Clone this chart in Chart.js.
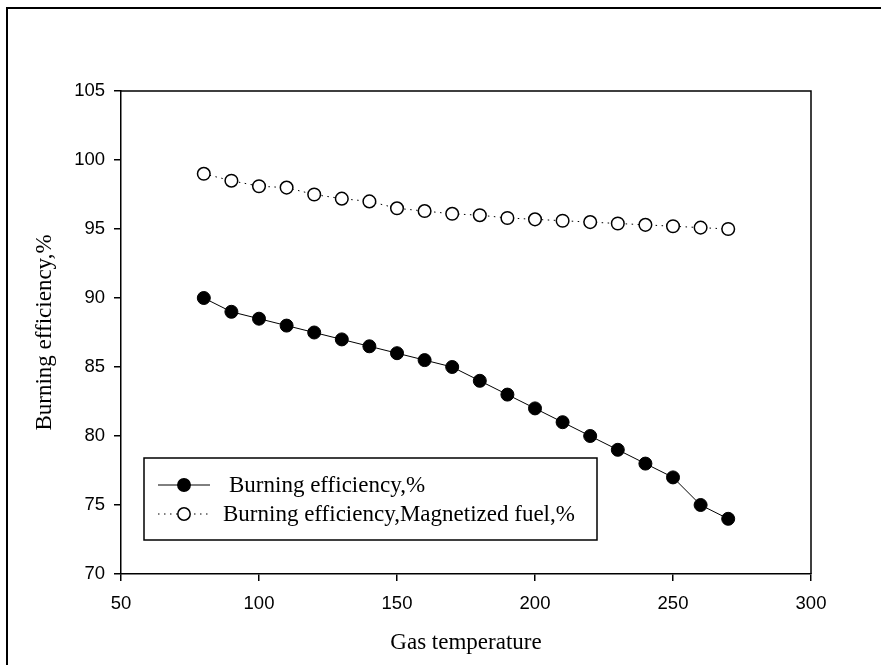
<!DOCTYPE html>
<html>
<head>
<meta charset="utf-8">
<script src="https://cdn.jsdelivr.net/npm/chart.js@4"></script>
<style>
  html, body { margin: 0; padding: 0; background: #fff; }
  #wrap { width: 881px; height: 665px; }
</style>
</head>
<body>
<div id="wrap"><canvas id="myChart" width="881" height="665"></canvas></div>
<script>
const gasTemperature = [80, 90, 100, 110, 120, 130, 140, 150, 160, 170, 180, 190, 200, 210, 220, 230, 240, 250, 260, 270];
const burningEfficiency = [90, 89, 88.5, 88, 87.5, 87, 86.5, 86, 85.5, 85, 84, 83, 82, 81, 80, 79, 78, 77, 75, 74];
const magnetizedEfficiency = [99, 98.5, 98.1, 98, 97.5, 97.2, 97, 96.5, 96.3, 96.1, 96, 95.8, 95.7, 95.6, 95.5, 95.4, 95.3, 95.2, 95.1, 95];
const xRange = [50, 300];
const yRange = [70, 105];
const seriesLabels = [' Burning efficiency,%', 'Burning efficiency,Magnetized fuel,%'];

const serif = "'Liberation Serif', 'Times New Roman', serif";
const sans = "'Liberation Sans', Arial, sans-serif";

const toPoints = (ys) => gasTemperature.map((x, i) => ({ x: x, y: ys[i] }));

// frame, outer border and the boxed legend inside the plot
const decorations = {
  id: 'decorations',
  afterDraw(chart) {
    const { ctx, chartArea: a } = chart;
    ctx.save();
    ctx.strokeStyle = '#000';
    ctx.lineWidth = 2;
    ctx.strokeRect(7, 8, 900, 700);

    ctx.lineWidth = 1.5;
    ctx.beginPath();
    ctx.moveTo(a.left, a.top);
    ctx.lineTo(a.right, a.top);
    ctx.lineTo(a.right, a.bottom);
    ctx.stroke();

    // legend
    ctx.lineWidth = 1.5;
    ctx.strokeRect(144, 458, 453, 82);
    const rows = [485, 514];
    ctx.font = '23px ' + serif;
    ctx.fillStyle = '#000';
    ctx.textBaseline = 'middle';
    rows.forEach((y, i) => {
      const ds = chart.data.datasets[i];
      ctx.lineWidth = 1;
      ctx.setLineDash(ds.borderDash || []);
      ctx.beginPath();
      ctx.moveTo(158, y);
      ctx.lineTo(210, y);
      ctx.stroke();
      ctx.setLineDash([]);
      ctx.beginPath();
      ctx.arc(184, y, 6.2, 0, Math.PI * 2);
      ctx.fillStyle = ds.pointBackgroundColor;
      ctx.fill();
      ctx.lineWidth = 1.5;
      ctx.stroke();
      ctx.fillStyle = '#000';
      ctx.fillText(seriesLabels[i].trim(), i === 0 ? 229 : 223, y + 1);
    });
    ctx.restore();
  }
};

const ctx = document.getElementById('myChart').getContext('2d');

const chart = new Chart(ctx, {
  type: 'line',
  data: {
    datasets: [{
      label: seriesLabels[0],
      data: toPoints(burningEfficiency),
      borderColor: '#000',
      borderWidth: 1,
      pointRadius: 6.5,
      pointBackgroundColor: '#000',
      pointBorderColor: '#000',
      pointBorderWidth: 1,
    }, {
      label: seriesLabels[1],
      data: toPoints(magnetizedEfficiency),
      borderColor: '#000',
      borderWidth: 1,
      borderDash: [1.5, 4.5],
      pointRadius: 6.3,
      pointBackgroundColor: '#fff',
      pointBorderColor: '#000',
      pointBorderWidth: 1.5,
    }],
  },
  options: {
    responsive: false,
    animation: false,
    layout: { padding: { top: 91, right: 70, left: 0, bottom: 0 } },
    plugins: {
      legend: { display: false },
      tooltip: { enabled: false },
    },
    scales: {
      x: {
        type: 'linear',
        min: xRange[0],
        max: xRange[1],
        afterFit: (scale) => { scale.height = 91; },
        ticks: {
          stepSize: 50,
          color: '#000',
          padding: 12,
          font: { family: sans, size: 18.5 },
        },
        grid: { drawOnChartArea: false, drawTicks: true, tickLength: 7, color: '#000', lineWidth: 1.5 },
        border: { display: true, color: '#000', width: 1.5 },
        title: {
          display: true,
          text: 'Gas temperature',
          color: '#000',
          font: { family: serif, size: 23 },
          padding: { top: 0, bottom: 8 },
        },
      },
      y: {
        min: yRange[0],
        max: yRange[1],
        afterFit: (scale) => { scale.width = 121; },
        ticks: {
          stepSize: 5,
          color: '#000',
          padding: 9,
          font: { family: sans, size: 18.5 },
        },
        grid: { drawOnChartArea: false, drawTicks: true, tickLength: 7, color: '#000', lineWidth: 1.5 },
        border: { display: true, color: '#000', width: 1.5 },
        title: {
          display: true,
          text: 'Burning efficiency,%',
          color: '#000',
          font: { family: serif, size: 23 },
          padding: { top: 31, bottom: 0 },
        },
      },
    },
  },
  plugins: [decorations],
});
</script>
</body>
</html>
